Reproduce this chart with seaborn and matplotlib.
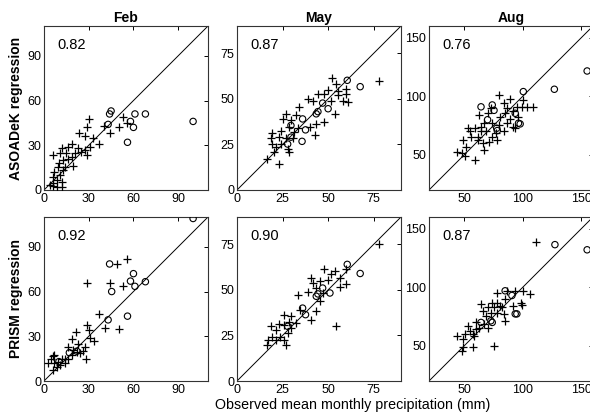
import numpy as np
import pandas as pd
import matplotlib
matplotlib.use("Agg")
import matplotlib.pyplot as plt
import seaborn as sns

months = ["Feb", "May", "Aug"]
models = ["ASOADeK regression", "PRISM regression"]
r_values = [["0.82", "0.87", "0.76"], ["0.92", "0.90", "0.87"]]
axis_limits = [(0, 110), (0, 90), (20, 160)]
axis_ticks = [[0, 30, 60, 90], [0, 25, 50, 75], [50, 100, 150]]

# ---- Feb, ASOADeK ----
feb_aso_plus_x = [30, 29, 40, 44, 50, 53, 56, 37, 33, 27.5, 23.5, 31, 27.5, 29, 23, 18.6, 16, 21, 18.5, 15,
                  12, 11, 6, 19.7, 14, 13, 9.6, 7, 6, 11, 8.5, 6, 12, 9, 12, 6, 10, 13, 16, 4, 25]
feb_aso_plus_y = [47.5, 42, 43, 38, 42, 49, 45, 31, 35, 36, 38, 29, 27, 23.5, 28, 31, 29, 24.5, 22, 24.5,
                  28, 24.5, 23.5, 16, 15.6, 13.4, 15.6, 12, 9, 10, 6.7, 5, 5.6, 2, 1.8, 2.7, 18, 20, 21, 3.3, 25.7]
feb_aso_circ_x = [44, 45, 43, 61, 68, 58, 60, 56, 100]
feb_aso_circ_y = [51, 53, 44, 51, 51, 46, 42, 32, 46]

# ---- May, ASOADeK ----
may_aso_plus_x = [77.8, 52.4, 54.6, 50, 47.8, 60, 59.6, 55.5, 58.3, 61, 44.4, 38.9, 41.7, 51.8, 53.7, 48, 43,
                  39.8, 43.5, 34, 32.4, 26.9, 25, 29.6, 28.7, 24, 33.7, 31.5, 19.4, 23, 26.9, 30.5, 19.4, 21.3,
                  24, 27.8, 28.7, 20.4, 16.7, 22.8, 18.5, 55.5]
may_aso_plus_y = [59.7, 61.7, 58.4, 54.7, 52.9, 55.6, 52.9, 52, 49, 48.2, 52.5, 49.7, 48.6, 49, 41.8, 37.2, 30.2,
                  34.4, 36, 45.5, 40.9, 41.8, 39, 38.5, 34.4, 32.6, 34, 31.7, 31.3, 29, 28.4, 28.6, 25.2, 23.4,
                  25.2, 22.5, 20.6, 20.6, 17, 14.5, 28.5, 54.3]
may_aso_circ_x = [60.5, 67.6, 36, 37.6, 35.7, 47, 50, 43.5, 44.4, 27.8, 29.6, 29.6]
may_aso_circ_y = [60.2, 56.7, 39, 33, 26.7, 47.7, 44.6, 41.8, 43, 25.2, 35.4, 29]

# ---- Aug, ASOADeK ----
aug_aso_plus_x = [109, 104, 99, 100, 79.7, 84, 89, 86.6, 91.7, 85, 81, 89.4, 96.4, 87, 92, 93.6, 84, 77, 74,
                  78.3, 71.4, 67, 66, 61.7, 64, 67, 63, 70, 72.8, 59, 54.7, 56, 53.3, 49, 52, 47.8, 43.6, 50.5,
                  59, 74, 68.6, 79.7, 61.7, 64.4, 95]
aug_aso_plus_y = [90.6, 90.6, 91, 97, 101, 94, 98, 90, 87.8, 85.5, 82.7, 81, 82.7, 77, 74, 72.7, 70, 68.5, 65.6,
                  62.8, 61.4, 54.3, 60, 62.8, 74, 77, 84, 85.5, 90, 72.7, 70, 65.6, 72.7, 62.8, 57, 51.4, 52.8,
                  48.6, 45.7, 77, 70, 75.6, 65.6, 70, 91]
aug_aso_circ_x = [155, 127, 100.5, 64.4, 74, 75.5, 93.6, 96.4, 97.8, 70, 77.8, 78.3]
aug_aso_circ_y = [121.6, 106, 104, 91, 92.6, 88, 85.5, 77, 76.4, 80, 72.7, 70.7]

# ---- Feb, PRISM ----
feb_pri_plus_x = [49, 56, 28.7, 44, 53, 37, 41, 50, 29, 30, 33.6, 21.5, 18.6, 23, 27.5, 28, 24, 16, 22, 18.6,
                  14, 12, 9.6, 7, 5, 6, 8.5, 6, 10.7, 14, 16, 3, 7, 26, 19.7, 31]
feb_pri_plus_y = [78.5, 81.6, 66, 65.5, 63.4, 45, 35.6, 35, 37.7, 34.5, 26.5, 32.7, 28, 25, 22.6, 15, 18.6, 22.6,
                  19.5, 17.5, 15, 14.5, 13, 12, 14.6, 17, 9.6, 7.4, 10.8, 12, 14.6, 12, 17.5, 20.4, 21, 29]
feb_pri_circ_x = [100, 44, 45.4, 60, 58, 61, 68, 56, 43, 17, 22, 10]
feb_pri_circ_y = [109, 78.5, 60, 72, 67, 63.5, 66.6, 43.5, 41, 19, 20, 13]

# ---- May, PRISM ----
may_pri_plus_x = [77.8, 60, 53.7, 48, 51.8, 56.5, 60, 56.5, 50, 45.4, 40.7, 43.5, 38.9, 33.3, 45.4, 43.5, 54.6,
                  34.3, 40.7, 29.6, 25.9, 28.7, 25.9, 29.6, 23, 18.5, 21.3, 23.7, 19.4, 17.2, 16.7, 21.3, 26.9,
                  25.9, 27.8, 32.4, 47, 41.7]
may_pri_plus_y = [75, 61.4, 60.3, 61.2, 58.5, 56.6, 53, 51.7, 55.7, 54.8, 56.6, 51, 48.7, 47.4, 43.8, 38.2, 30,
                  39, 33.6, 35.5, 36.4, 32.2, 30.9, 29, 31.2, 30.3, 28, 24.4, 24, 22.6, 19.8, 22.6, 19.8, 22.6,
                  26.6, 31.8, 48.3, 54]
may_pri_circ_x = [60.5, 67.6, 51, 47, 44.4, 43.5, 36, 37.6, 27.8]
may_pri_circ_y = [64, 59, 48.3, 51, 47.8, 46.5, 40, 36.4, 30]

# ---- Aug, PRISM ----
aug_pri_plus_x = [111.7, 106, 100, 93.6, 86.6, 77.8, 98.6, 91.7, 99, 85, 81, 74, 75.5, 70, 64.4, 65.8, 78.3,
                  83.9, 85, 72.8, 68.6, 67, 63, 60, 70, 53.3, 54.7, 57.5, 50.5, 43.6, 49, 57.5, 49, 47.8, 75.5,
                  60, 78.3, 58.7, 82.5]
aug_pri_plus_y = [138.6, 94, 97, 97, 97, 95.5, 87, 84.4, 84.7, 90, 84.4, 87, 82.8, 82.8, 85.5, 80, 78.4, 77,
                  71.4, 78.4, 75.6, 68.5, 65.6, 64.2, 65.6, 67, 62.8, 60, 60, 58, 55.7, 48.6, 48.6, 45.7, 50,
                  70, 87, 58.6, 83]
aug_pri_circ_x = [155, 127.5, 93.6, 95, 74, 72.8, 90.8, 85, 64.4]
aug_pri_circ_y = [132, 136.4, 77.3, 77.3, 70, 71.4, 93, 97, 70]

plus_data = [[(feb_aso_plus_x, feb_aso_plus_y), (may_aso_plus_x, may_aso_plus_y), (aug_aso_plus_x, aug_aso_plus_y)],
             [(feb_pri_plus_x, feb_pri_plus_y), (may_pri_plus_x, may_pri_plus_y), (aug_pri_plus_x, aug_pri_plus_y)]]
circ_data = [[(feb_aso_circ_x, feb_aso_circ_y), (may_aso_circ_x, may_aso_circ_y), (aug_aso_circ_x, aug_aso_circ_y)],
             [(feb_pri_circ_x, feb_pri_circ_y), (may_pri_circ_x, may_pri_circ_y), (aug_pri_circ_x, aug_pri_circ_y)]]

sns.set_theme(style="white")
plt.rcParams['font.family'] = ['Liberation Sans', 'DejaVu Sans']
plt.rcParams['text.color'] = 'black'
plt.rcParams['axes.labelcolor'] = 'black'
plt.rcParams['xtick.color'] = 'black'
plt.rcParams['ytick.color'] = 'black'

fig = plt.figure(figsize=(5.9, 4.13), dpi=100)
W, H = 590, 413
lefts = [44, 237, 429]
bottoms_px = [190, 381]
size = 164

for r in range(2):
    for c in range(3):
        ax = fig.add_axes([lefts[c] / W, 1 - bottoms_px[r] / H, size / W, size / H])
        lo, hi = axis_limits[c]
        ax.plot([lo, hi], [lo, hi], color='black', lw=0.7, zorder=1)
        px, py = plus_data[r][c]
        cx, cy = circ_data[r][c]
        sns.scatterplot(x=px, y=py, marker='+', color='black', s=36, linewidth=0.9, ax=ax, zorder=3)
        sns.scatterplot(x=cx, y=cy, marker='o', facecolors='none', edgecolor='black', s=21,
                        linewidth=0.8, ax=ax, zorder=3)
        ax.set_xlim(lo, hi)
        ax.set_ylim(lo, hi)
        ax.set_xticks(axis_ticks[c])
        ax.set_yticks(axis_ticks[c])
        ax.tick_params(direction='in', length=3, width=0.7, top=True, right=True,
                       labelsize=9, colors='black', pad=2)
        for sp in ax.spines.values():
            sp.set_color('#333333')
            sp.set_linewidth(0.8)
        ax.text(0.08, 0.925, r_values[r][c], transform=ax.transAxes, fontsize=10.5,
                ha='left', va='top', color='black')
        if r == 0:
            ax.set_title(months[c], fontsize=10, fontweight='bold', pad=3, color='black')
        if c == 0:
            ax.set_ylabel(models[r], fontsize=10, fontweight='bold', labelpad=3)

fig.text(353 / W, 1 - 405 / H, "Observed mean monthly precipitation (mm)", ha='center', va='center',
         fontsize=10.3)

fig.savefig("out.png", dpi=100)
